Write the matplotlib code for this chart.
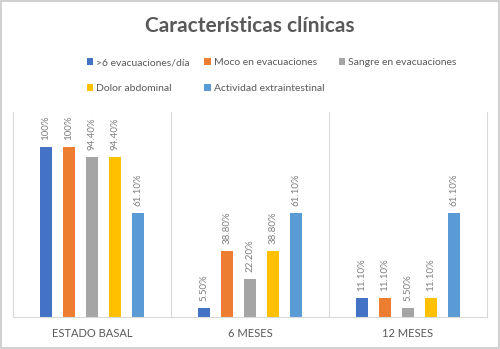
import numpy as np
import matplotlib.pyplot as plt
from matplotlib.patches import Rectangle

plt.rcParams['font.family'] = ['Lato', 'DejaVu Sans']

categorias = ["ESTADO BASAL", "6 MESES", "12 MESES"]
series = [">6 evacuaciones/día", "Moco en evacuaciones", "Sangre en evacuaciones",
          "Dolor abdominal", "Actividad extraintestinal"]
valores = [
    [100.0, 5.5, 11.1],
    [100.0, 38.8, 11.1],
    [94.4, 22.2, 5.5],
    [94.4, 38.8, 11.1],
    [61.1, 61.1, 61.1],
]
etiquetas = [
    ["100%", "5.50%", "11.10%"],
    ["100%", "38.80%", "11.10%"],
    ["94.40%", "22.20%", "5.50%"],
    ["94.40%", "38.80%", "11.10%"],
    ["61.10%", "61.10%", "61.10%"],
]
colores = ["#4472C4", "#ED7D31", "#A5A5A5", "#FFC000", "#5B9BD5"]

fig = plt.figure(figsize=(5.0, 3.49), dpi=100)
fig.patches.append(Rectangle((0.002, 0.003), 0.996, 0.994, transform=fig.transFigure,
                             fill=False, edgecolor="#C8C8C8", linewidth=1.2))

ax = fig.add_axes([0.026, 0.0917, 0.948, 0.587])
x = np.arange(len(categorias))
paso = 0.146
ancho = 0.076
handles = []
for i, (nombre, vals, labs, col) in enumerate(zip(series, valores, etiquetas, colores)):
    pos = x + (i - 2) * paso
    b = ax.bar(pos, vals, width=ancho, color=col, label=nombre)
    handles.append(b)
    for px, v, t in zip(pos, vals, labs):
        ax.annotate(t, (px, v), xytext=(0, 5), textcoords="offset points",
                    rotation=90, ha="center", va="bottom", fontsize=7, color="#7F7F7F")

ax.set_xlim(-0.5, 2.5)
ax.set_ylim(0, 120.6)
for xs in [-0.5, 0.5, 1.5, 2.5]:
    ax.plot([xs, xs], [0, 120.6], color="#D9D9D9", linewidth=0.8, clip_on=False)
for s in ["top", "right", "left"]:
    ax.spines[s].set_visible(False)
ax.spines["bottom"].set_color("#D9D9D9")
ax.set_yticks([])
ax.set_xticks(x)
ax.set_xticklabels(categorias, fontsize=8, color="#595959")
ax.tick_params(axis="x", length=0, pad=8)

fig.text(0.5, 0.925, "Características clínicas", ha="center", va="center",
         fontsize=15, fontweight="bold", color="#595959")

# orden por filas: la leyenda de matplotlib se llena por columnas
orden = [0, 3, 1, 4, 2]
fig.legend(handles=[handles[k] for k in orden], labels=[series[k] for k in orden],
           ncol=3, loc="upper left",
           bbox_to_anchor=(0.155, 0.86), frameon=False, fontsize=7.5,
           handlelength=0.6, handleheight=0.6, handletextpad=0.3,
           columnspacing=1.4, labelspacing=1.6, labelcolor="#595959")

fig.savefig("out.png", dpi=100)
